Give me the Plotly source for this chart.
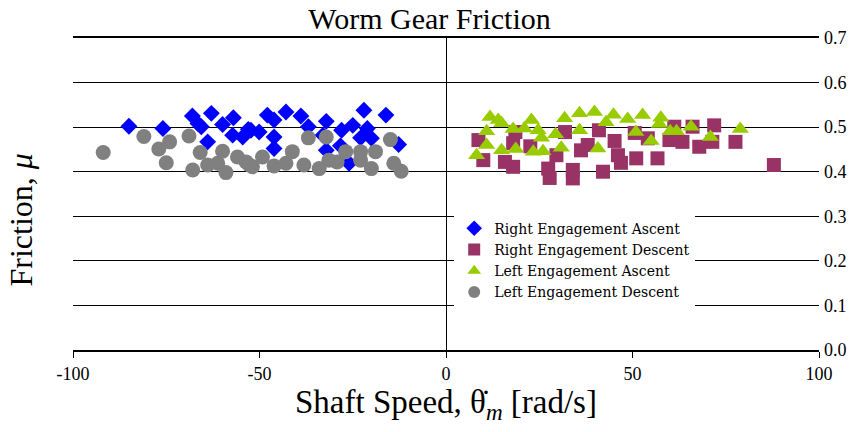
import plotly.graph_objects as go

# Right Engagement Ascent (blue diamonds)
rea_x = [-85.0, -75.9, -68.0, -66.5, -65.6, -62.9, -59.9, -57.0, -63.9, -57.2, -54.5, -53.0,
         -52.3, -50.1, -47.9, -46.1, -42.9, -38.9, -46.1, -46.1, -36.9, -32.1, -33.0, -28.0,
         -25.0, -22.0, -16.1, -21.1, -22.9, -20.0, -28.3, -32.1, -26.0, -12.7]
rea_y = [0.502, 0.497, 0.525, 0.508, 0.501, 0.531, 0.506, 0.521, 0.467, 0.482, 0.478, 0.495,
         0.493, 0.489, 0.527, 0.516, 0.534, 0.525, 0.478, 0.452, 0.501, 0.513, 0.482, 0.493,
         0.504, 0.538, 0.527, 0.497, 0.476, 0.475, 0.458, 0.448, 0.419, 0.461]

# Right Engagement Descent (maroon squares)
red_x = [8.7, 10.0, 15.8, 18.0, 18.6, 18.0, 22.6, 27.4, 27.8, 29.6, 31.9, 34.0, 34.0, 36.2,
         38.0, 41.0, 42.1, 45.2, 46.1, 46.9, 50.6, 51.0, 54.1, 56.7, 59.9, 61.2, 63.4, 66.1,
         67.9, 71.4, 71.9, 77.6, 87.9]
red_y = [0.471, 0.426, 0.422, 0.411, 0.489, 0.464, 0.457, 0.407, 0.386, 0.437, 0.489, 0.404,
         0.385, 0.448, 0.460, 0.493, 0.400, 0.469, 0.437, 0.420, 0.487, 0.430, 0.475, 0.430,
         0.471, 0.501, 0.467, 0.501, 0.456, 0.467, 0.504, 0.467, 0.415]

# Left Engagement Ascent (green triangles)
lea_x = [11.8, 14.0, 14.9, 10.9, 10.9, 8.2, 14.9, 18.0, 18.7, 21.0, 22.9, 24.7, 23.4, 25.6,
         26.0, 29.4, 30.9, 31.8, 35.8, 35.8, 39.8, 40.7, 42.9, 44.9, 48.7, 50.9, 52.7, 55.0,
         57.6, 57.2, 60.1, 61.8, 65.7, 70.9, 78.9]
lea_y = [0.523, 0.516, 0.509, 0.491, 0.460, 0.437, 0.448, 0.496, 0.451, 0.497, 0.516, 0.493,
         0.445, 0.476, 0.446, 0.484, 0.454, 0.520, 0.531, 0.493, 0.534, 0.452, 0.511, 0.528,
         0.518, 0.489, 0.527, 0.469, 0.521, 0.507, 0.491, 0.491, 0.501, 0.478, 0.496]

# Left Engagement Descent (gray circles)
led_x = [-91.9, -81.0, -77.0, -74.1, -75.0, -68.9, -67.9, -65.9, -63.9, -61.2, -59.9, -59.0,
         -55.9, -53.6, -51.9, -52.7, -49.2, -46.1, -42.9, -41.2, -38.1, -36.9, -32.1, -34.0,
         -31.4, -29.2, -26.9, -22.9, -22.9, -18.9, -20.0, -14.9, -14.0, -12.0]
led_y = [0.443, 0.479, 0.451, 0.467, 0.420, 0.480, 0.404, 0.443, 0.415, 0.419, 0.446, 0.398,
         0.433, 0.422, 0.411, 0.415, 0.433, 0.413, 0.419, 0.445, 0.415, 0.476, 0.478, 0.407,
         0.426, 0.422, 0.445, 0.445, 0.426, 0.445, 0.407, 0.472, 0.419, 0.401]

x_ticks = [-100, -50, 0, 50, 100]
y_ticks = [0.0, 0.1, 0.2, 0.3, 0.4, 0.5, 0.6, 0.7]

FONT = "Liberation Serif"
LEG_FONT = "DejaVu Serif"

fig = go.Figure()
fig.add_trace(go.Scatter(x=rea_x, y=rea_y, mode="markers", name="Right Engagement Ascent",
                         marker=dict(symbol="diamond", size=13, color="#0000FF")))
fig.add_trace(go.Scatter(x=red_x, y=red_y, mode="markers", name="Right Engagement Descent",
                         marker=dict(symbol="square", size=14, color="#993366")))
fig.add_trace(go.Scatter(x=lea_x, y=lea_y, mode="markers", name="Left Engagement Ascent",
                         marker=dict(symbol="triangle-up", size=15, color="#99CC00")))
fig.add_trace(go.Scatter(x=led_x, y=led_y, mode="markers", name="Left Engagement Descent",
                         marker=dict(symbol="circle", size=15, color="#808080")))

fig.update_layout(
    width=859, height=432,
    margin=dict(l=73, r=37, t=38, b=82),
    paper_bgcolor="white", plot_bgcolor="white",
    font=dict(family=FONT, color="black"),
    title=dict(text="Worm Gear Friction", x=0.5, xanchor="center", y=0.957, yanchor="middle",
               font=dict(size=30, family=FONT, color="black")),
    showlegend=True,
    legend=dict(x=0.511, y=0.44, xanchor="left", yanchor="top", bgcolor="white",
                borderwidth=0, font=dict(size=14, family=LEG_FONT), tracegroupgap=0,
                itemsizing="constant"),
    xaxis=dict(range=[-100, 100], tickvals=x_ticks, ticktext=[str(v) for v in x_ticks],
               showgrid=False, zeroline=True, zerolinecolor="black", zerolinewidth=1,
               showline=True, mirror=True, linecolor="black", linewidth=2,
               ticks="outside", ticklen=6,
               tickcolor="black", tickwidth=1, tickfont=dict(size=18, family=FONT),
               title=dict(text="Shaft Speed, \u03b8\u0307<sub><i>m</i></sub> [rad/s]",
                          font=dict(size=33, family=FONT), standoff=4)),
    yaxis=dict(range=[0, 0.7], tickvals=y_ticks, tickformat=".1f", side="right",
               showgrid=True, gridcolor="black", gridwidth=1, zeroline=False,
               showline=False, ticks="", ticklabelstandoff=4,
               tickfont=dict(size=18, family=FONT)),
    annotations=[dict(text="Friction, <i>μ</i>", xref="paper", yref="paper",
                      x=-0.071, y=0.415, xanchor="center", yanchor="middle", textangle=-90,
                      showarrow=False, font=dict(size=32, family=FONT, color="black"))],
)

fig.write_html("out.html")
